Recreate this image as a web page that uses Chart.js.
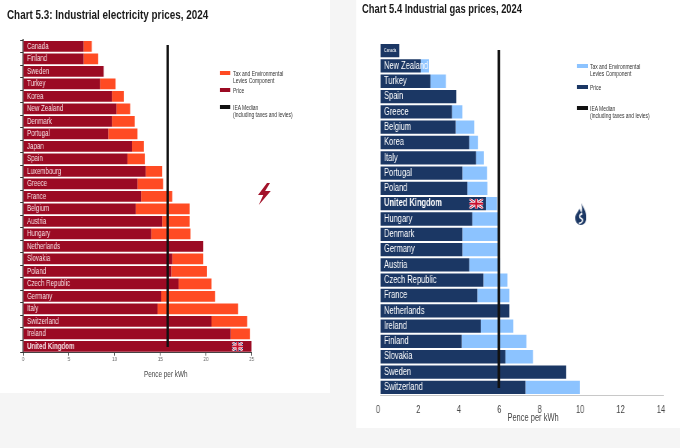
<!DOCTYPE html>
<html><head><meta charset="utf-8">
<script src="https://cdn.jsdelivr.net/npm/chart.js@4/dist/chart.umd.min.js"></script>
<style>
html,body{margin:0;padding:0;background:#f5f5f5;width:680px;height:448px;overflow:hidden;}
#wrap{position:absolute;left:0;top:0;width:906.667px;height:448px;transform:scaleX(0.75);transform-origin:0 0;font-family:"Liberation Sans",Arial,sans-serif;}
.panel{position:absolute;background:#fff;}
.title{position:absolute;font-weight:bold;white-space:nowrap;color:#1a1a1a;line-height:1;}
.lg{position:absolute;font-size:6.6px;line-height:7px;color:#333;white-space:nowrap;}
.sw{position:absolute;height:3.2px;}
.axt{position:absolute;white-space:nowrap;color:#444;line-height:1;transform:translateX(-50%);}
canvas{position:absolute;top:0;}
svg{position:absolute;}
</style></head>
<body><div id="wrap">
<div class="panel" style="left:0;top:0;width:440px;height:393px;"></div>
<div class="panel" style="left:474.67px;top:0;width:432px;height:428px;"></div>

<div class="title" style="left:9.3px;top:7.6px;font-size:13.2px;">Chart 5.3: Industrial electricity prices, 2024</div>
<div class="title" style="left:482.7px;top:2.9px;font-size:12.5px;">Chart 5.4 Industrial gas prices, 2024</div>

<canvas id="elec" width="440" height="393" style="left:0;width:440px;height:393px;"></canvas>
<canvas id="gas" width="432" height="428" style="left:474.67px;width:432px;height:428px;"></canvas>

<!-- left legend -->
<div class="sw" style="left:293.3px;top:71.4px;width:13.4px;background:#ff4b23;"></div>
<div class="lg" style="left:310.7px;top:69.5px;">Tax and Environmental<br>Levies Component</div>
<div class="sw" style="left:293.3px;top:88.4px;width:13.4px;background:#9b0a23;"></div>
<div class="lg" style="left:310.7px;top:86.5px;">Price</div>
<div class="sw" style="left:293.3px;top:105.4px;width:13.4px;background:#111;"></div>
<div class="lg" style="left:310.7px;top:103.5px;">IEA Median<br>(including taxes and levies)</div>

<!-- right legend -->
<div class="sw" style="left:769.3px;top:64.4px;width:14.7px;background:#8cc3ff;"></div>
<div class="lg" style="left:786.7px;top:62.5px;">Tax and Environmental<br>Levies Component</div>
<div class="sw" style="left:769.3px;top:85.4px;width:14.7px;background:#1b3764;"></div>
<div class="lg" style="left:786.7px;top:83.5px;">Price</div>
<div class="sw" style="left:769.3px;top:106.4px;width:14.7px;background:#111;"></div>
<div class="lg" style="left:786.7px;top:104.5px;">IEA Median<br>(including taxes and levies)</div>

<div class="axt" style="left:221px;top:369.5px;font-size:8.5px;">Pence per kWh</div>
<div class="axt" style="left:710.7px;top:413px;font-size:10px;">Pence per kWh</div>

<!-- lightning icon -->
<svg style="left:340px;top:183px;" width="24" height="22" viewBox="0 0 24 22">
<path d="M16 0 L4 12 L11 12 L5 22 L21 8 L13.5 8 L20 0 Z" fill="#a3132b"/>
</svg>
<!-- flame icon -->
<svg style="left:766.7px;top:203px;" width="15" height="22" viewBox="0 0 15 22">
<path d="M8 0 C11 5 15 9 15 14.5 C15 19 11.5 22 7.5 22 C3.5 22 0 19 0 15 C0 11 4 9.5 5.5 5.5 C6.5 7.5 7.5 8.5 8.5 10 C9.5 7 9.5 3 8 0 Z" fill="#1b3764"/>
<path d="M9.5 10.5 C5 11.5 5 14.5 8 15.5 C11 16.5 10.5 19.5 5 20.5" stroke="#fff" stroke-width="1.8" fill="none"/>
</svg>
</div>

<script>
// ---------- Data ----------
const elecCountries = ['Canada','Finland','Sweden','Turkey','Korea','New Zealand','Denmark','Portugal','Japan','Spain','Luxembourg','Greece','France','Belgium','Austria','Hungary','Netherlands','Slovakia','Poland','Czech Republic','Germany','Italy','Switzerland','Ireland','United Kingdom'];
const elecPrice = [6.6,6.6,8.8,8.4,9.7,10.2,9.7,9.3,11.9,11.4,13.4,12.5,12.9,12.3,15.2,14.0,19.7,16.3,16.2,17.0,15.1,14.7,20.6,22.7,25.0];
const elecTax   = [0.9,1.6,0.0,1.7,1.3,1.5,2.5,3.2,1.3,1.9,1.8,2.8,3.4,5.9,3.0,4.3,0.0,3.4,3.9,3.6,5.9,8.8,3.9,2.1,0.0];
const elecTicks = [0,5,10,15,20,25];
const elecMedian = 15.8;

const gasCountries = ['Canada','New Zealand','Turkey','Spain','Greece','Belgium','Korea','Italy','Portugal','Poland','United Kingdom','Hungary','Denmark','Germany','Austria','Czech Republic','France','Netherlands','Ireland','Finland','Slovakia','Sweden','Switzerland'];
const gasPrice = [0.94,2.0,2.48,3.76,3.55,3.73,4.4,4.74,4.06,4.31,5.23,4.55,4.06,4.06,4.4,5.1,4.8,6.39,4.97,4.03,6.19,9.2,7.18];
const gasTax   = [0.0,0.41,0.77,0.0,0.51,0.92,0.43,0.38,1.22,0.99,0.55,1.28,1.77,1.77,1.54,1.19,1.59,0.0,1.61,3.2,1.37,0.0,2.69];
const gasTicks = [0,2,4,6,8,10,12,14];
const gasMedian = 5.87;

const seriesNames = ['Price','Tax and Environmental Levies Component'];
const HIGHLIGHT = 'United Kingdom';

// ---------- Helpers ----------
function drawUnionJack(ctx, x, y, w, h) {
  ctx.save();
  ctx.beginPath(); ctx.rect(x, y, w, h); ctx.clip();
  ctx.fillStyle = '#012169'; ctx.fillRect(x, y, w, h);
  ctx.strokeStyle = '#fff'; ctx.lineWidth = h * 0.3;
  ctx.beginPath(); ctx.moveTo(x, y); ctx.lineTo(x + w, y + h); ctx.moveTo(x + w, y); ctx.lineTo(x, y + h); ctx.stroke();
  ctx.strokeStyle = '#C8102E'; ctx.lineWidth = h * 0.1;
  ctx.beginPath(); ctx.moveTo(x, y); ctx.lineTo(x + w, y + h); ctx.moveTo(x + w, y); ctx.lineTo(x, y + h); ctx.stroke();
  ctx.fillStyle = '#fff';
  ctx.fillRect(x, y + h * 0.34, w, h * 0.32);
  ctx.fillRect(x + w / 2 - h * 0.16 / 0.75, y, h * 0.32 / 0.75, h);
  ctx.fillStyle = '#C8102E';
  ctx.fillRect(x, y + h * 0.4, w, h * 0.2);
  ctx.fillRect(x + w / 2 - h * 0.1 / 0.75, y, h * 0.2 / 0.75, h);
  ctx.restore();
}

const overlay = {
  id: 'overlay',
  afterDatasetsDraw(chart, args, o) {
    const { ctx, chartArea: a, scales: { x, y } } = chart;
    const mx = x.getPixelForValue(o.median);
    ctx.save();
    ctx.strokeStyle = '#111';
    ctx.lineWidth = o.medianWidth;
    ctx.beginPath();
    ctx.moveTo(mx, a.top + o.insetTop);
    ctx.lineTo(mx, a.bottom - o.insetBottom);
    ctx.stroke();
    const px = x.getPixelForValue(o.flagAt);
    const py = y.getPixelForValue(o.flagIndex);
    drawUnionJack(ctx, px - o.flagGap - o.flagW, py - o.flagH / 2, o.flagW, o.flagH);
    ctx.restore();
  }
};

function build(id, labels, price, tax, ticksArr, max, median, st) {
  const uk = labels.indexOf(HIGHLIGHT);
  return new Chart(document.getElementById(id), {
    type: 'bar',
    data: {
      labels: labels,
      datasets: [
        { label: seriesNames[0], data: price, backgroundColor: st.priceColor, barPercentage: st.barPct, categoryPercentage: 1 },
        { label: seriesNames[1], data: tax, backgroundColor: st.taxColor, barPercentage: st.barPct, categoryPercentage: 1 }
      ]
    },
    options: {
      indexAxis: 'y',
      responsive: false,
      animation: false,
      layout: { padding: st.padding },
      plugins: {
        legend: { display: false },
        tooltip: { enabled: false },
        overlay: {
          median: median, medianWidth: st.medianWidth, insetTop: st.insetTop, insetBottom: st.insetBottom,
          flagIndex: uk, flagAt: price[uk], flagGap: st.flagGap, flagW: st.flagW, flagH: st.flagH
        }
      },
      scales: {
        x: {
          stacked: true, min: 0, max: max,
          afterBuildTicks: s => { s.ticks = ticksArr.map(v => ({ value: v })); },
          afterFit: s => { s.height = st.xHeight; },
          border: { display: true, color: st.xBorder, width: 1 },
          grid: { display: true, drawOnChartArea: false, drawTicks: st.xTicks, tickLength: st.xTickLen, color: st.xBorder },
          ticks: { color: st.xTickColor, font: { family: 'Liberation Sans', size: st.xFont }, padding: st.xPad, labelOffset: st.xLabelOffset, maxRotation: 0, autoSkip: false }
        },
        y: {
          stacked: true,
          afterFit: s => { s.width = 0; },
          border: { display: st.yBorder, color: '#333', width: 1.6 },
          grid: { display: st.yBorder, drawOnChartArea: false, drawTicks: st.yBorder, tickLength: 4, color: '#333' },
          ticks: {
            z: 1,
            mirror: true, padding: st.yPad, autoSkip: false,
            color: st.labelColor,
            font: ctx => ({
              family: 'Liberation Sans',
              size: (st.smallFirst && ctx.index === 0) ? 4.7 : st.yFont,
              weight: ctx.index === uk ? 'bold' : 'normal'
            })
          }
        }
      }
    },
    plugins: [overlay]
  });
}

build('elec', elecCountries, elecPrice, elecTax, elecTicks, 25, elecMedian, {
  priceColor: '#9b0a23', taxColor: '#ff4b23', barPct: 0.86,
  padding: { left: 31, top: 40, right: 104.4, bottom: 26.3 },
  medianWidth: 3, insetTop: 5, insetBottom: 5.7,
  flagGap: 11.6, flagW: 14.7, flagH: 9,
  xHeight: 14, xBorder: '#444', xTicks: true, xTickLen: 3, xTickColor: '#666', xFont: 6, xPad: 0, xLabelOffset: 0,
  yBorder: true, yPad: 5, yFont: 8.2, labelColor: '#f6e3e6', smallFirst: false
});

build('gas', gasCountries, gasPrice, gasTax, gasTicks, 14, gasMedian, {
  priceColor: '#1b3764', taxColor: '#8cc3ff', barPct: 0.87,
  padding: { left: 32, top: 43, right: 22.7, bottom: 9 },
  medianWidth: 3.5, insetTop: 7, insetBottom: 7,
  flagGap: 3.6, flagW: 18.7, flagH: 10,
  xHeight: 24, xBorder: '#c8c8c8', xTicks: false, xTickLen: 0, xTickColor: '#444', xFont: 10, xPad: 9, xLabelOffset: -3,
  yBorder: false, yPad: 5, yFont: 10, labelColor: '#ffffff', smallFirst: true
});
</script>
</body></html>
